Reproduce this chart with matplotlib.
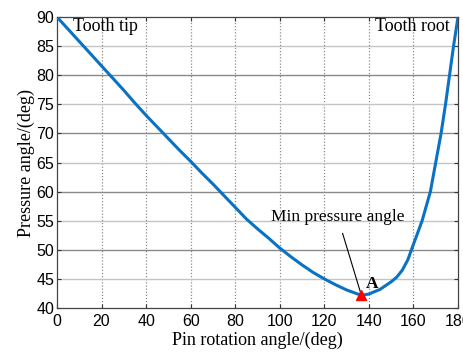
import matplotlib.pyplot as plt

# pin rotation angle (deg) and pressure angle (deg)
pin_angle = [0, 5, 10, 15, 20, 25, 30, 35, 40, 45, 50, 55, 60, 65, 70, 75, 80, 85,
             90, 95, 100, 105, 110, 115, 120, 125, 130, 135, 137, 140, 145, 150,
             152.5, 155, 157.5, 159.1, 161.5, 163.9, 167.6, 170, 172.4, 174.4,
             176.2, 178, 180]
pressure = [90, 87.9, 85.8, 83.7, 81.6, 79.5, 77.4, 75.2, 73.1, 71.1, 69.1, 67.1,
            65.2, 63.2, 61.3, 59.3, 57.3, 55.3, 53.6, 52.0, 50.3, 48.8, 47.4, 46.1,
            45.0, 44.0, 43.1, 42.4, 42.2, 42.4, 43.2, 44.5, 45.3, 46.5, 48.3, 50.0,
            52.5, 55.0, 60.0, 65.0, 70.0, 75.0, 80.0, 85.0, 90.0]
min_point = (136.5, 42.2)
x_ticks = list(range(0, 181, 20))
y_ticks = list(range(40, 91, 5))

SERIF = ["Liberation Serif", "DejaVu Serif"]
SANS = ["Liberation Sans", "DejaVu Sans"]

fig = plt.figure(figsize=(4.63, 3.52), dpi=100)
ax = fig.add_axes([0.1231, 0.125, 0.8661, 0.8267])

ax.plot(pin_angle, pressure, color="#0a72c4", linewidth=2.2, zorder=3)
ax.plot(*min_point, marker="^", color="red", markersize=7, zorder=4)

ax.set_xlim(0, 180)
ax.set_ylim(40, 90)
ax.set_xticks(x_ticks)
ax.set_yticks(y_ticks)

# vertical dotted grid, horizontal solid grid (darker at multiples of 10)
for xv in x_ticks[1:-1]:
    ax.axvline(xv, color="#8c8c8c", linestyle=(0, (1, 1.5)), linewidth=0.9, zorder=1)
for yv in y_ticks[1:-1]:
    col = "#8a8a8a" if yv % 10 == 0 else "#c4c4c4"
    ax.axhline(yv, color=col, linestyle="-", linewidth=1.0, zorder=1)

ax.tick_params(direction="in", top=True, right=True, length=3, width=0.8,
               labelsize=11.5, colors="#333333", labelcolor="black")
ax.tick_params(axis="x", pad=4.5)
ax.tick_params(axis="y", pad=2)
for lbl in ax.get_xticklabels() + ax.get_yticklabels():
    lbl.set_family(SANS)
for sp in ax.spines.values():
    sp.set_color("#444444")
    sp.set_linewidth(0.9)

ax.set_xlabel("Pin rotation angle/(deg)", family=SERIF, fontsize=13, labelpad=2)
ax.set_ylabel("Pressure angle/(deg)", family=SERIF, fontsize=13, labelpad=1)

ax.text(21.6, 88.3, "Tooth tip", family=SERIF, fontsize=13, ha="center", va="center")
ax.text(159.6, 88.3, "Tooth root", family=SERIF, fontsize=13, ha="center", va="center")
ax.text(141.5, 44.2, "A", family=SERIF, fontsize=12.5, fontweight="bold",
        ha="center", va="center")
ax.annotate("Min pressure angle", xy=(136.3, 42.6), xytext=(126, 55.6),
            family=SERIF, fontsize=12.5, ha="center", va="center",
            arrowprops=dict(arrowstyle="-", color="black", linewidth=0.8,
                            shrinkA=4, shrinkB=0))

fig.savefig("out.png", dpi=100, facecolor="white")
